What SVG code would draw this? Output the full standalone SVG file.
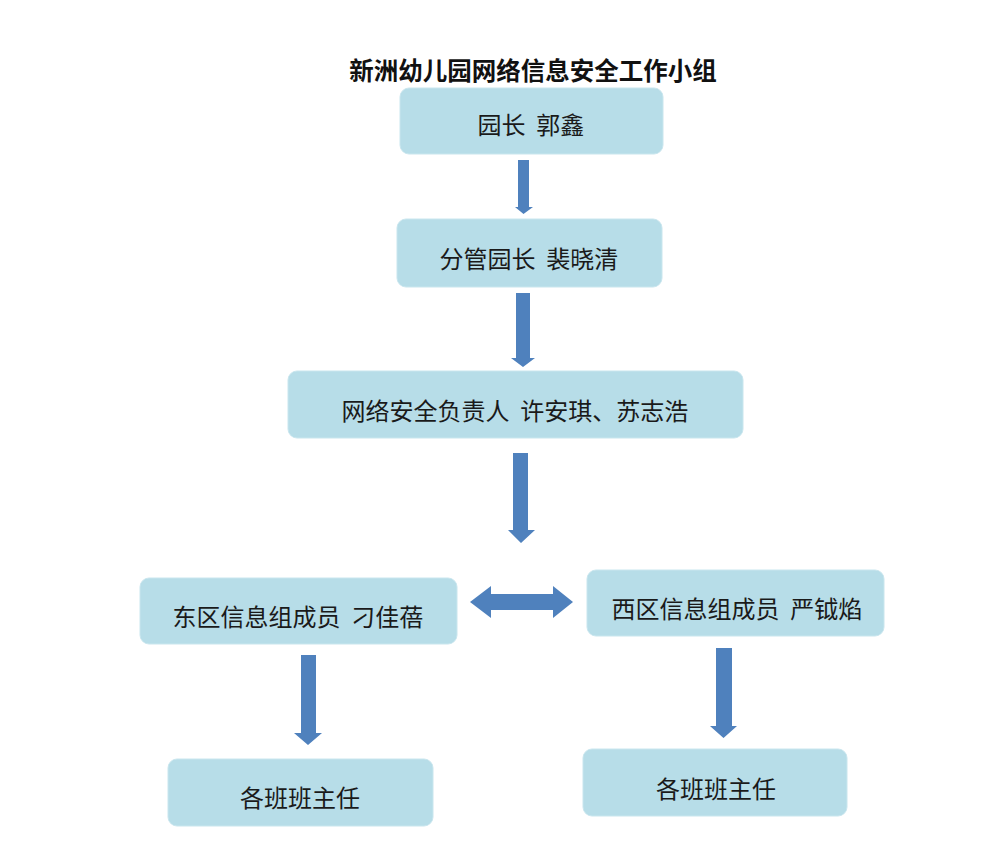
<svg xmlns="http://www.w3.org/2000/svg" width="1000" height="846" viewBox="0 0 1000 846">
<style>
.box{fill:#b7dde8;stroke:#c9e6ee;stroke-width:1}
.t{font-family:"Noto Sans CJK SC","Noto Sans CJK JP",sans-serif;font-size:24px;fill:#1a1a1a;text-anchor:middle;white-space:pre}
.title{font-family:"Noto Sans CJK SC","Noto Sans CJK JP",sans-serif;font-size:24.5px;font-weight:bold;fill:#111;text-anchor:middle}
.arr{fill:#4f81bd}
</style>
<rect width="1000" height="846" fill="#ffffff"/>
<text id="title" class="title" x="533" y="80">新洲幼儿园网络信息安全工作小组</text>
<g id="connectors">
<polygon class="arr" points="518,160 529,160 529,207 533,207 523.5,214 515,207 518,207"/>
<polygon class="arr" points="516,293 530,293 530,358 535,358 523,367 511,358 516,358"/>
<polygon class="arr" points="513,453 528,453 528,530 535,530 521,543 508,530 513,530"/>
<polygon class="arr" points="470,602 491,586 491,594 553,594 553,586 573,602 553,618 553,610 491,610 491,618"/>
<polygon class="arr" points="301,655 316,655 316,733 322,733 308,745 294,733 301,733"/>
<polygon class="arr" points="716,648 732,648 732,726 737,726 723.5,738 710,726 716,726"/>
</g>
<g id="n1"><rect class="box" x="400" y="88" width="263" height="66" rx="9"/><text class="t" x="531" y="134" xml:space="preserve">园长  郭鑫</text></g>
<g id="n2"><rect class="box" x="397" y="219" width="265" height="68" rx="9"/><text class="t" x="529" y="268" xml:space="preserve">分管园长  裴晓清</text></g>
<g id="n3"><rect class="box" x="288" y="371" width="455" height="67" rx="9"/><text class="t" x="515" y="420" xml:space="preserve">网络安全负责人  许安琪、苏志浩</text></g>
<g id="n4"><rect class="box" x="140" y="578" width="317" height="66" rx="9"/><text class="t" x="298" y="626" xml:space="preserve">东区信息组成员  刁佳蓓</text></g>
<g id="n5"><rect class="box" x="587" y="570" width="297" height="66" rx="9"/><text class="t" x="737" y="618" xml:space="preserve">西区信息组成员  严钺焰</text></g>
<g id="n6"><rect class="box" x="168" y="759" width="265" height="67" rx="9"/><text class="t" x="300" y="807">各班班主任</text></g>
<g id="n7"><rect class="box" x="583" y="749" width="264" height="67" rx="9"/><text class="t" x="716" y="798">各班班主任</text></g>
</svg>
